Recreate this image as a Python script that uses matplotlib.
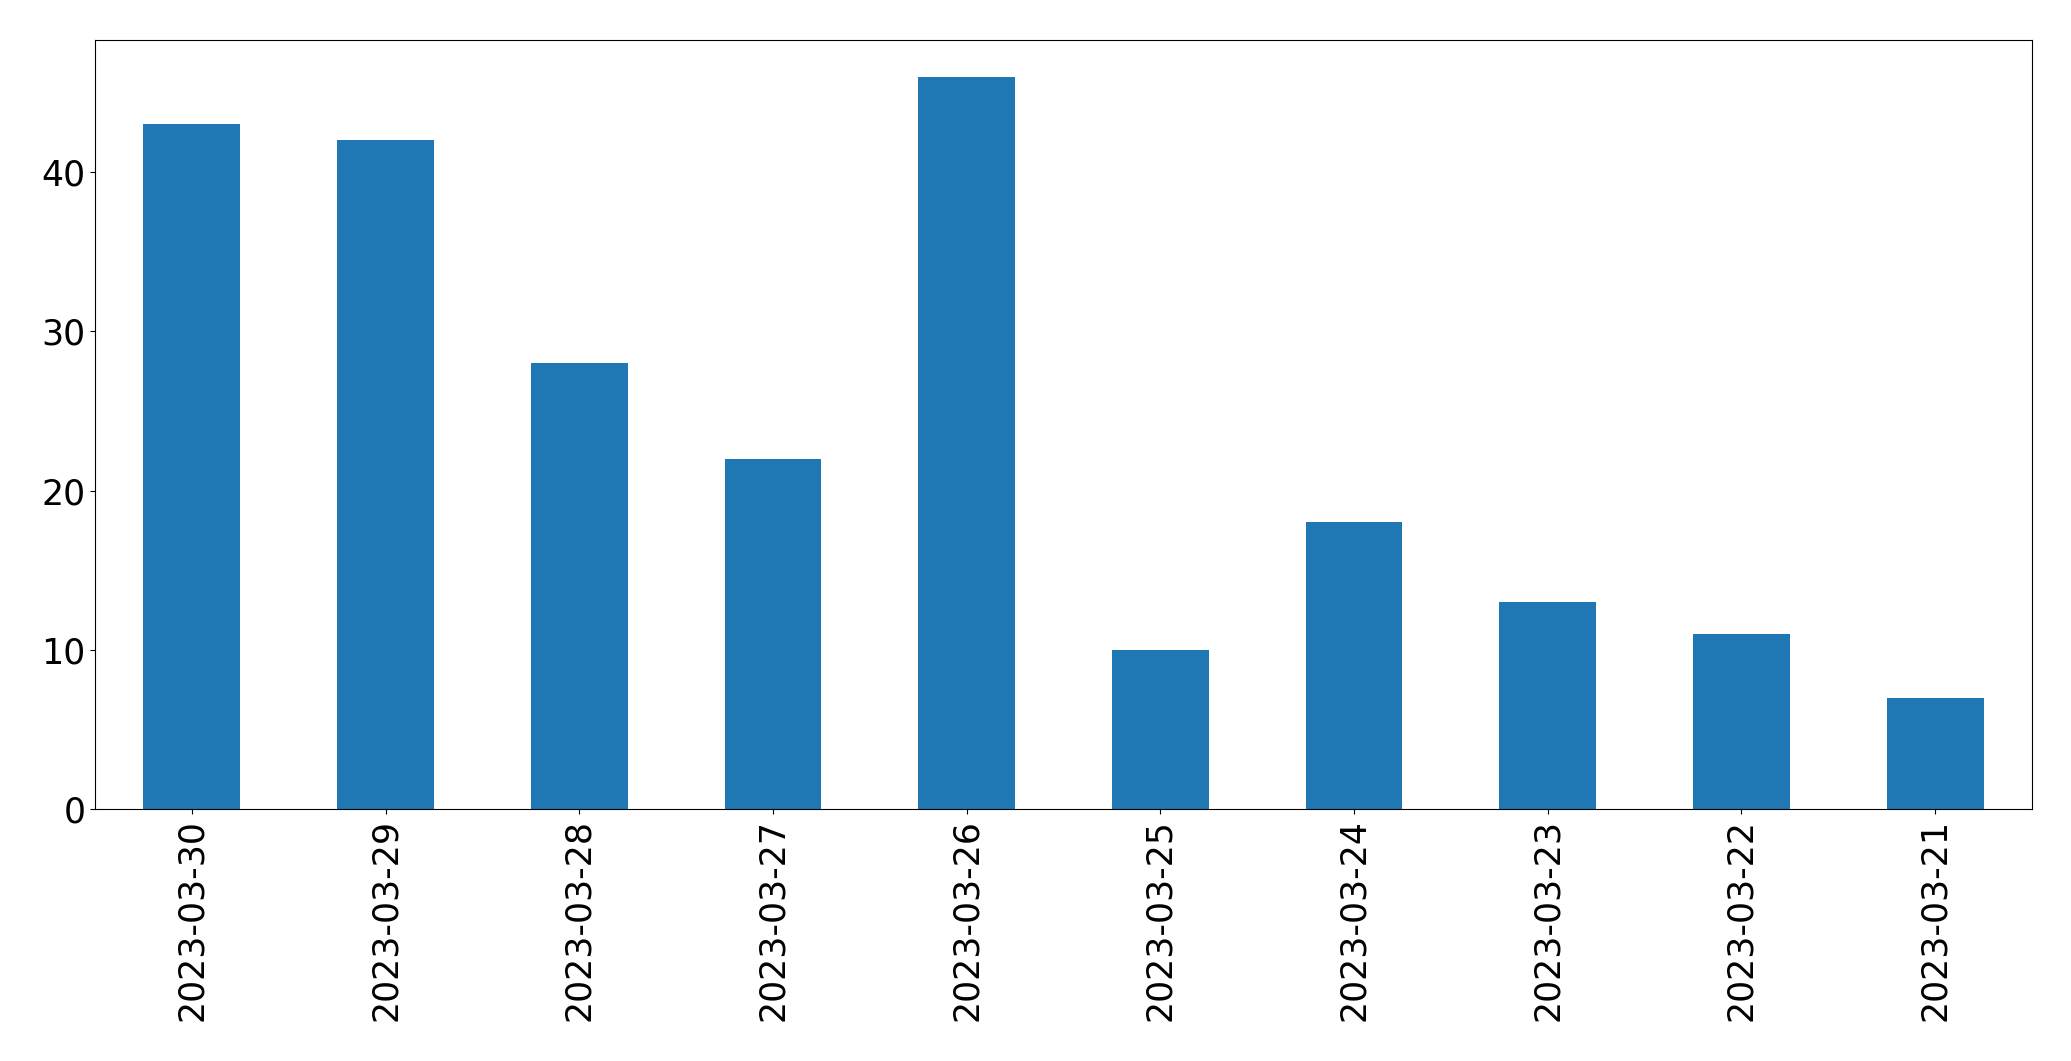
import matplotlib
matplotlib.use("Agg")
import matplotlib.pyplot as plt
import numpy as np

dates = ["2023-03-30", "2023-03-29", "2023-03-28", "2023-03-27", "2023-03-26",
         "2023-03-25", "2023-03-24", "2023-03-23", "2023-03-22", "2023-03-21"]
counts = [43, 42, 28, 22, 46, 10, 18, 13, 11, 7]

fig = plt.figure(figsize=(20.71, 10.61), dpi=100)
ax = fig.add_axes([95/2071, 1 - 809/1061, (2032-95)/2071, (809-40)/1061])
x = np.arange(len(dates))
ax.bar(x, counts, width=0.5, color="#1f77b4")
ax.set_xlim(-0.5, len(dates) - 0.5)
ax.set_ylim(0, max(counts) * 1.05)
ax.set_xticks(x)
ax.set_xticklabels(dates, rotation=90)
ax.set_yticks([0, 10, 20, 30, 40])
ax.tick_params(labelsize=25)
fig.savefig("out.png", dpi=100)
